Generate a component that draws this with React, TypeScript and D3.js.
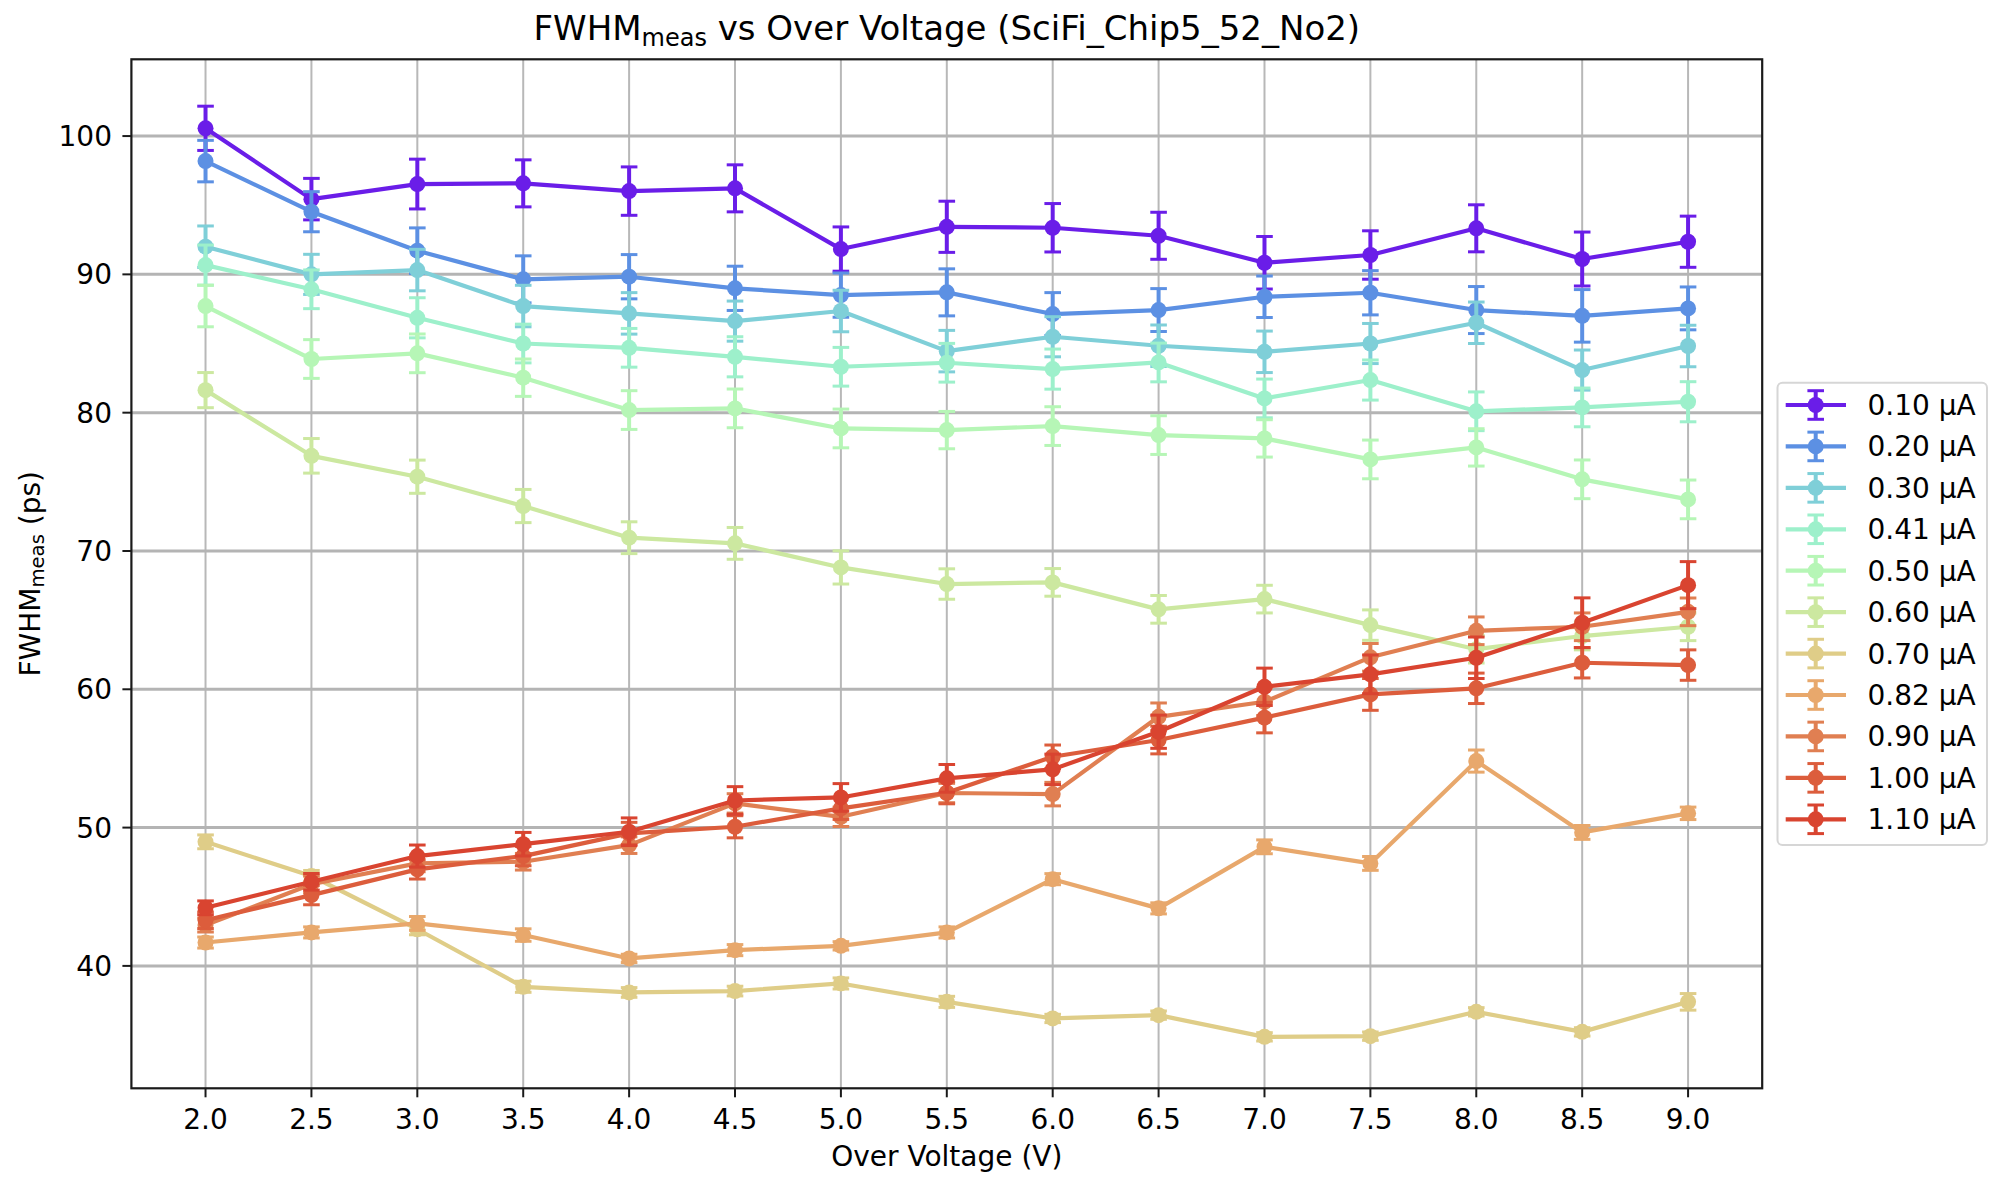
import React, { useEffect, useRef } from "react";
import * as d3 from "d3";

// over voltage (V)
const voltages = [2.0, 2.5, 3.0, 3.5, 4.0, 4.5, 5.0, 5.5, 6.0, 6.5, 7.0, 7.5, 8.0, 8.5, 9.0];

const currents = ["0.10", "0.20", "0.30", "0.41", "0.50", "0.60", "0.70", "0.82", "0.90", "1.00", "1.10"];

const colors = [
  "#6a1de8", "#5c90e3", "#7fcfd8", "#9df0cb", "#b6f6b6", "#cce8a0",
  "#dfcd88", "#e8a86c", "#e07f52", "#dc5d3c", "#d94430",
];

// FWHM_meas (ps) per current
const fwhm010 = [100.56, 95.44, 96.53, 96.58, 96.02, 96.22, 91.83, 93.44, 93.37, 92.79, 90.84, 91.4, 93.33, 91.11, 92.36];
const fwhm020 = [98.19, 94.53, 91.71, 89.64, 89.83, 88.99, 88.5, 88.7, 87.13, 87.42, 88.38, 88.67, 87.42, 87.0, 87.54];
const fwhm030 = [92.0, 90.0, 90.31, 87.71, 87.18, 86.62, 87.35, 84.45, 85.49, 84.84, 84.4, 85.0, 86.5, 83.08, 84.82];
const fwhm041 = [90.67, 88.92, 86.86, 85.0, 84.69, 84.04, 83.32, 83.61, 83.15, 83.63, 81.03, 82.36, 80.1, 80.38, 80.79];
const fwhm050 = [87.71, 83.88, 84.29, 82.53, 80.19, 80.31, 78.86, 78.74, 79.03, 78.38, 78.14, 76.62, 77.49, 75.18, 73.73];
const fwhm060 = [81.63, 76.88, 75.37, 73.25, 70.96, 70.55, 68.81, 67.61, 67.73, 65.78, 66.52, 64.64, 62.9, 63.85, 64.52];
const fwhm070 = [48.97, 46.5, 42.65, 38.49, 38.08, 38.18, 38.73, 37.4, 36.2, 36.44, 34.87, 34.92, 36.68, 35.23, 37.4];
const fwhm082 = [41.69, 42.42, 43.07, 42.23, 40.54, 41.14, 41.45, 42.42, 46.27, 44.16, 48.61, 47.41, 54.81, 49.65, 51.03];
const fwhm090 = [42.95, 45.9, 47.41, 47.53, 48.73, 51.75, 50.78, 52.5, 52.42, 58.01, 59.1, 62.31, 64.23, 64.52, 65.6];
const fwhm100 = [43.3, 45.12, 46.98, 47.94, 49.58, 50.06, 51.39, 52.52, 55.12, 56.33, 57.95, 59.63, 60.07, 61.92, 61.75];
const fwhm110 = [44.2, 46.08, 47.94, 48.8, 49.7, 51.96, 52.18, 53.56, 54.21, 56.93, 60.18, 61.08, 62.28, 64.81, 67.53];

// errors (ps)
const err010 = [1.6, 1.5, 1.8, 1.7, 1.75, 1.7, 1.6, 1.85, 1.75, 1.7, 1.9, 1.75, 1.7, 1.95, 1.85];
const err020 = [1.5, 1.45, 1.65, 1.7, 1.6, 1.6, 1.6, 1.7, 1.55, 1.55, 1.5, 1.6, 1.7, 1.9, 1.55];
const err030 = [1.5, 1.45, 1.5, 1.5, 1.5, 1.45, 1.5, 1.5, 1.45, 1.5, 1.5, 1.45, 1.5, 1.45, 1.5];
const err041 = [1.45, 1.4, 1.45, 1.4, 1.4, 1.45, 1.4, 1.4, 1.45, 1.4, 1.4, 1.45, 1.4, 1.4, 1.45];
const err050 = [1.5, 1.4, 1.4, 1.35, 1.4, 1.4, 1.4, 1.35, 1.4, 1.4, 1.35, 1.4, 1.35, 1.4, 1.4];
const err060 = [1.27, 1.25, 1.2, 1.2, 1.15, 1.15, 1.2, 1.1, 1.0, 1.0, 1.0, 1.1, 1.0, 1.0, 1.0];
const err070 = [0.5, 0.4, 0.4, 0.4, 0.35, 0.35, 0.4, 0.4, 0.3, 0.3, 0.3, 0.3, 0.3, 0.3, 0.6];
const err082 = [0.4, 0.4, 0.5, 0.45, 0.3, 0.4, 0.3, 0.4, 0.4, 0.4, 0.5, 0.5, 0.8, 0.5, 0.45];
const err090 = [0.5, 0.6, 0.6, 0.6, 0.6, 0.7, 0.7, 0.7, 0.85, 1.0, 1.0, 1.0, 1.0, 1.0, 1.0];
const err100 = [0.6, 0.7, 0.7, 0.7, 0.8, 0.8, 0.8, 0.8, 0.85, 1.0, 1.1, 1.15, 1.1, 1.1, 1.1];
const err110 = [0.5, 0.6, 0.8, 0.85, 1.0, 1.0, 1.0, 1.0, 1.1, 1.2, 1.35, 1.4, 1.5, 1.8, 1.7];

const values = [fwhm010, fwhm020, fwhm030, fwhm041, fwhm050, fwhm060, fwhm070, fwhm082, fwhm090, fwhm100, fwhm110];
const errors = [err010, err020, err030, err041, err050, err060, err070, err082, err090, err100, err110];

const yTicks = [40, 50, 60, 70, 80, 90, 100];

const W = 2012;
const H = 1177;
const FONT = "DejaVu Sans, sans-serif";

export default function App() {
  const ref = useRef<SVGSVGElement>(null);

  useEffect(() => {
    const svg = d3.select(ref.current);
    svg.selectAll("*").remove();

    const left = 131.4;
    const right = 1762.2;
    const top = 59.3;
    const bottom = 1088.3;

    const x = d3.scaleLinear().domain([1.65, 9.35]).range([left, right]);
    const y = d3.scaleLinear().domain([31.15, 105.55]).range([bottom, top]);

    svg.append("rect").attr("width", W).attr("height", H).attr("fill", "#fff");

    // grid
    svg
      .append("g")
      .selectAll("line")
      .data(voltages)
      .enter()
      .append("line")
      .attr("x1", (d) => x(d))
      .attr("x2", (d) => x(d))
      .attr("y1", top)
      .attr("y2", bottom)
      .attr("stroke", "#b8b8b8")
      .attr("stroke-width", 2);
    svg
      .append("g")
      .selectAll("line")
      .data(yTicks)
      .enter()
      .append("line")
      .attr("x1", left)
      .attr("x2", right)
      .attr("y1", (d) => y(d))
      .attr("y2", (d) => y(d))
      .attr("stroke", "#b4b4b4")
      .attr("stroke-width", 3);

    // series, drawn in order so 1.10 ends on top
    const line = d3
      .line<number>()
      .x((_, i) => x(voltages[i]))
      .y((d) => y(d));

    values.forEach((vals, s) => {
      const g = svg.append("g");
      const c = colors[s];
      g.append("path")
        .attr("d", line(vals))
        .attr("fill", "none")
        .attr("stroke", c)
        .attr("stroke-width", 4.2)
        .attr("stroke-linejoin", "round");

      const bars = g
        .selectAll("g.eb")
        .data(vals)
        .enter()
        .append("g")
        .attr("class", "eb");
      bars
        .append("line")
        .attr("x1", (_, i) => x(voltages[i]))
        .attr("x2", (_, i) => x(voltages[i]))
        .attr("y1", (d, i) => y(d + errors[s][i]))
        .attr("y2", (d, i) => y(d - errors[s][i]))
        .attr("stroke", c)
        .attr("stroke-width", 4);
      [1, -1].forEach((sign) => {
        bars
          .append("line")
          .attr("x1", (_, i) => x(voltages[i]) - 8.3)
          .attr("x2", (_, i) => x(voltages[i]) + 8.3)
          .attr("y1", (d, i) => y(d + sign * errors[s][i]))
          .attr("y2", (d, i) => y(d + sign * errors[s][i]))
          .attr("stroke", c)
          .attr("stroke-width", 3);
      });
      bars
        .append("circle")
        .attr("cx", (_, i) => x(voltages[i]))
        .attr("cy", (d) => y(d))
        .attr("r", 8)
        .attr("fill", c);
    });

    // spines
    svg
      .append("rect")
      .attr("x", left)
      .attr("y", top)
      .attr("width", right - left)
      .attr("height", bottom - top)
      .attr("fill", "none")
      .attr("stroke", "#1a1a1a")
      .attr("stroke-width", 2.2);

    // ticks
    const xAxis = svg.append("g");
    voltages.forEach((v) => {
      xAxis
        .append("line")
        .attr("x1", x(v))
        .attr("x2", x(v))
        .attr("y1", bottom)
        .attr("y2", bottom + 9)
        .attr("stroke", "#1a1a1a")
        .attr("stroke-width", 2);
      xAxis
        .append("text")
        .attr("x", x(v))
        .attr("y", 1129)
        .attr("text-anchor", "middle")
        .style("font-family", FONT)
        .style("font-size", "28px")
        .style("fill", "#000")
        .text(v.toFixed(1));
    });
    const yAxis = svg.append("g");
    yTicks.forEach((v) => {
      yAxis
        .append("line")
        .attr("x1", left - 9)
        .attr("x2", left)
        .attr("y1", y(v))
        .attr("y2", y(v))
        .attr("stroke", "#1a1a1a")
        .attr("stroke-width", 2);
      yAxis
        .append("text")
        .attr("x", 112)
        .attr("y", y(v))
        .attr("dy", "0.36em")
        .attr("text-anchor", "end")
        .style("font-family", FONT)
        .style("font-size", "28px")
        .style("fill", "#000")
        .text(String(v));
    });

    // title
    const title = svg
      .append("text")
      .attr("x", (left + right) / 2)
      .attr("y", 39.5)
      .attr("text-anchor", "middle")
      .style("font-family", FONT)
      .style("font-size", "34px")
      .style("fill", "#000");
    title.append("tspan").text("FWHM");
    title.append("tspan").attr("dy", 6).style("font-size", "24px").text("meas");
    title.append("tspan").attr("dy", -6).text(" vs Over Voltage (SciFi_Chip5_52_No2)");

    // axis labels
    svg
      .append("text")
      .attr("x", (left + right) / 2)
      .attr("y", 1166)
      .attr("text-anchor", "middle")
      .style("font-family", FONT)
      .style("font-size", "28px")
      .style("fill", "#000")
      .text("Over Voltage (V)");

    const yl = svg
      .append("text")
      .attr("transform", `translate(39.5,${(top + bottom) / 2}) rotate(-90)`)
      .attr("text-anchor", "middle")
      .style("font-family", FONT)
      .style("font-size", "28px")
      .style("fill", "#000");
    yl.append("tspan").text("FWHM");
    yl.append("tspan").attr("dy", 4).style("font-size", "19.6px").text("meas");
    yl.append("tspan").attr("dy", -4).text(" (ps)");

    // legend
    const lg = svg.append("g");
    lg.append("rect")
      .attr("x", 1777.5)
      .attr("y", 382.7)
      .attr("width", 209.5)
      .attr("height", 462.3)
      .attr("rx", 5)
      .attr("fill", "#fff")
      .attr("fill-opacity", 0.8)
      .attr("stroke", "#d6d6d6")
      .attr("stroke-width", 2);
    currents.forEach((cur, i) => {
      const cy = 405 + i * 41.43;
      const c = colors[i];
      const item = lg.append("g");
      item
        .append("line")
        .attr("x1", 1785.7)
        .attr("x2", 1846)
        .attr("y1", cy)
        .attr("y2", cy)
        .attr("stroke", c)
        .attr("stroke-width", 4.2);
      item
        .append("line")
        .attr("x1", 1815.7)
        .attr("x2", 1815.7)
        .attr("y1", cy - 14.3)
        .attr("y2", cy + 14.3)
        .attr("stroke", c)
        .attr("stroke-width", 4);
      [-14.3, 14.3].forEach((dy) => {
        item
          .append("line")
          .attr("x1", 1815.7 - 8.3)
          .attr("x2", 1815.7 + 8.3)
          .attr("y1", cy + dy)
          .attr("y2", cy + dy)
          .attr("stroke", c)
          .attr("stroke-width", 3);
      });
      item.append("circle").attr("cx", 1815.7).attr("cy", cy).attr("r", 8).attr("fill", c);
      item
        .append("text")
        .attr("x", 1867.5)
        .attr("y", cy + 10)
        .style("font-family", FONT)
        .style("font-size", "28px")
        .style("fill", "#000")
        .text(`${cur} µA`);
    });
  }, []);

  return (
    <svg
      ref={ref}
      width={W}
      height={H}
      style={{ position: "absolute", left: 0, top: 0, display: "block" }}
    />
  );
}
